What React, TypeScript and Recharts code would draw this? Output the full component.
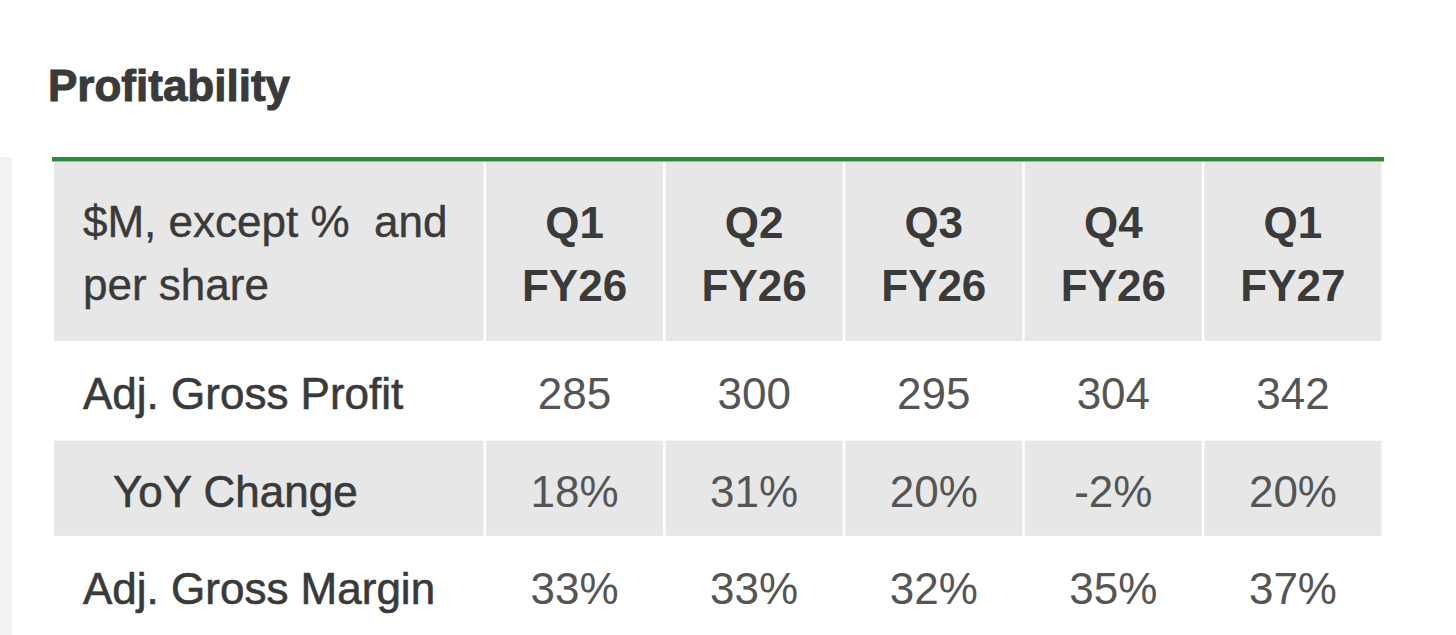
import { ScatterChart, Scatter, XAxis, YAxis } from 'recharts'

const quarters = ['Q1 FY26', 'Q2 FY26', 'Q3 FY26', 'Q4 FY26', 'Q1 FY27']
const rowLabels = ['Adj. Gross Profit', 'YoY Change', 'Adj. Gross Margin']
const subRows = ['YoY Change']
const grossProfit = [285, 300, 295, 304, 342]
const yoyChange = [18, 31, 20, -2, 20]
const grossMargin = [33, 33, 32, 35, 37]
const cornerLines = ['$M, except %  and', 'per share']

const cells = quarters.flatMap((q, i) => [
  { quarter: q, row: rowLabels[0], text: String(grossProfit[i]) },
  { quarter: q, row: rowLabels[1], text: `${yoyChange[i]}%` },
  { quarter: q, row: rowLabels[2], text: `${grossMargin[i]}%` },
])

// layout
const W = 1456
const H = 636
const M = { top: 162, right: 72, bottom: 0, left: 54 }
const HEAD_H = 181
const LABEL_W = 432
const GAP = 2.5
const COL_W = (W - M.left - M.right - LABEL_W) / quarters.length
const ROW_H = (H - M.top - HEAD_H) / rowLabels.length

const FONT = '"Liberation Sans", Arial, Helvetica, sans-serif'
const GREY = '#e7e7e7'
const GREEN = '#2b8a3e'
const DARK = '#3a3a3a'
const NUM = '#555555'

const HeaderTick = ({ x, payload }: any) => {
  const [top, bottom] = String(payload.value).split(' ')
  const left = x - COL_W / 2
  const mid = left + (COL_W - GAP) / 2
  return (
    <g>
      <rect x={left} y={M.top} width={COL_W - GAP} height={HEAD_H - 2} fill={GREY} />
      <text x={mid} y={237.5} textAnchor="middle" fontFamily={FONT} fontSize={44} fontWeight={700} fill={DARK}>{top}</text>
      <text x={mid} y={301} textAnchor="middle" fontFamily={FONT} fontSize={44} fontWeight={700} fill={DARK}>{bottom}</text>
    </g>
  )
}

const RowTick = ({ y, payload }: any) => {
  const r = rowLabels.indexOf(payload.value)
  const indent = subRows.includes(payload.value) ? 30 : 0
  return (
    <g>
      {r % 2 === 1 && <rect x={M.left} y={y - ROW_H / 2} width={LABEL_W - GAP} height={ROW_H - GAP} fill={GREY} />}
      <text x={M.left + 29 + indent} y={y + 17} fontFamily={FONT} fontSize={44} fill={DARK} stroke={DARK} strokeWidth={0.6}>{payload.value}</text>
    </g>
  )
}

const Corner = ({ viewBox }: any) => {
  const { x } = viewBox
  return (
    <g>
      <rect x={x - 2} y={M.top - 5} width={W - M.right - x + 2} height={4.5} fill={GREEN} />
      <rect x={x} y={M.top} width={LABEL_W - GAP} height={HEAD_H - 2} fill={GREY} />
      {cornerLines.map((line, i) => (
        <text key={i} x={x + 29} y={236.7 + i * 63.3} fontFamily={FONT} fontSize={44} fill={DARK} stroke={DARK} strokeWidth={0.4} style={{ whiteSpace: 'pre' }}>{line}</text>
      ))}
    </g>
  )
}

const CellShape = ({ cx, cy, payload }: any) => {
  const r = rowLabels.indexOf(payload.row)
  return (
    <g>
      {r % 2 === 1 && <rect x={cx - COL_W / 2} y={cy - ROW_H / 2} width={COL_W - GAP} height={ROW_H - GAP} fill={GREY} />}
      <text x={cx - GAP / 2} y={cy + 17} textAnchor="middle" fontFamily={FONT} fontSize={44} fill={NUM}>{payload.text}</text>
    </g>
  )
}

export default function App() {
  return (
    <div style={{ position: 'absolute', left: 0, top: 0, width: 1456, height: 635, overflow: 'hidden', background: '#fff' }}>
      <div style={{ position: 'absolute', left: 48, top: 64, fontFamily: FONT, fontSize: 44, lineHeight: '44px', fontWeight: 700, color: DARK, whiteSpace: 'nowrap', WebkitTextStroke: `1px ${DARK}` }}>
        Profitability
      </div>
      <div style={{ position: 'absolute', left: 0, top: 157, width: 12, height: 480, background: '#f2f2f2' }} />
      <div style={{ position: 'absolute', left: 0, top: 0 }}>
        <ScatterChart width={W} height={H} margin={M}>
          <XAxis
            dataKey="quarter"
            type="category"
            orientation="top"
            allowDuplicatedCategory={false}
            height={HEAD_H}
            axisLine={false}
            tickLine={false}
            tick={<HeaderTick />}
          />
          <YAxis
            dataKey="row"
            type="category"
            reversed
            allowDuplicatedCategory={false}
            width={LABEL_W}
            axisLine={false}
            tickLine={false}
            tick={<RowTick />}
            label={<Corner />}
          />
          <Scatter data={cells} shape={<CellShape />} isAnimationActive={false} />
        </ScatterChart>
      </div>
    </div>
  )
}
